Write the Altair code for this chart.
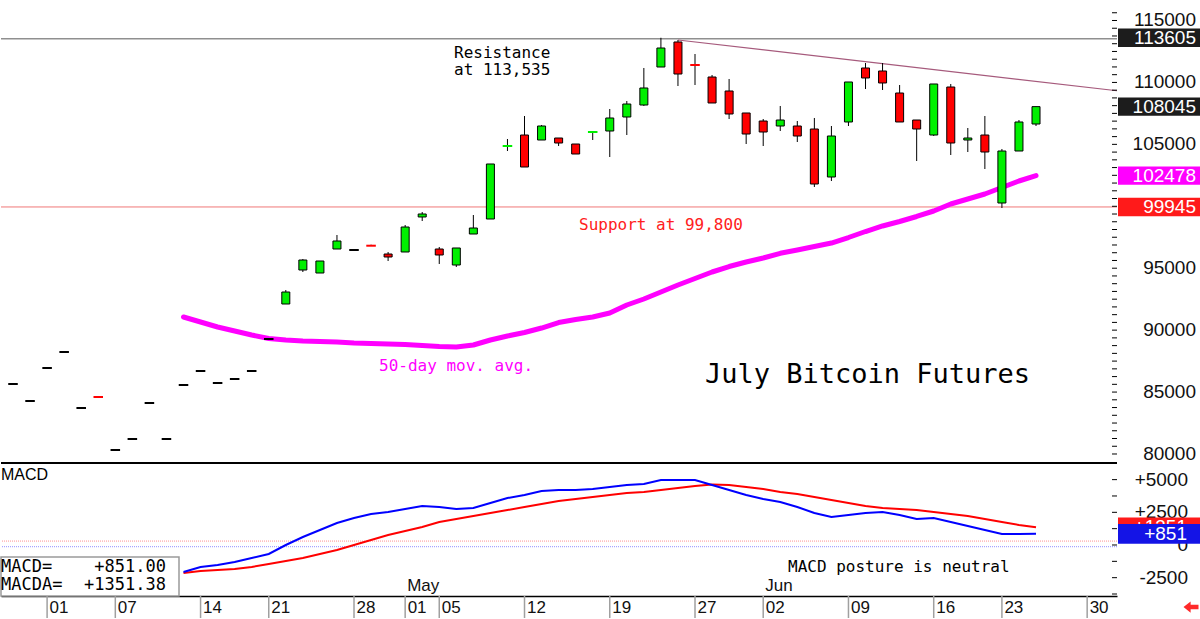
import altair as alt
import pandas as pd

# ---- July Bitcoin futures: daily sessions (exchange holidays skipped) ----
sessions = ["2025-03-28", "2025-03-31", "2025-04-01", "2025-04-02", "2025-04-03",
            "2025-04-04", "2025-04-07", "2025-04-08", "2025-04-09", "2025-04-10",
            "2025-04-11", "2025-04-14", "2025-04-15", "2025-04-16", "2025-04-17",
            "2025-04-21", "2025-04-22", "2025-04-23", "2025-04-24", "2025-04-25",
            "2025-04-28", "2025-04-29", "2025-04-30", "2025-05-01", "2025-05-02",
            "2025-05-05", "2025-05-06", "2025-05-07", "2025-05-08", "2025-05-09",
            "2025-05-12", "2025-05-13", "2025-05-14", "2025-05-15", "2025-05-16",
            "2025-05-19", "2025-05-20", "2025-05-21", "2025-05-22", "2025-05-23",
            "2025-05-27", "2025-05-28", "2025-05-29", "2025-05-30", "2025-06-02",
            "2025-06-03", "2025-06-04", "2025-06-05", "2025-06-06", "2025-06-09",
            "2025-06-10", "2025-06-11", "2025-06-12", "2025-06-13", "2025-06-16",
            "2025-06-17", "2025-06-18", "2025-06-20", "2025-06-23", "2025-06-24",
            "2025-06-25"]

opens = [85651, 84278, 86943, 88235, 83713, 84601, 80322, 81210, 84117, 81210,
         85570, 86700, 85731, 86054, 86700, 89284, 92110, 94855, 94613, 96551,
         96470, 96817, 96147, 96309, 99135, 96551, 95259, 97762, 98973, 104867,
         105755, 105351, 105513, 105028, 105997, 106078, 107208, 108177, 111245, 113264,
         111407, 110438, 109308, 107532, 106885, 106481, 106481, 106239, 102364, 106805,
         111165, 110923, 109146, 106966, 105755, 109630, 105351, 105755, 100265, 104463,
         106643]
highs = [85651, 84278, 86943, 88235, 83713, 84601, 80322, 81210, 84117, 81210,
         85570, 86700, 85731, 86054, 86700, 89284, 93240, 95743, 95582, 97681,
         96470, 96898, 96309, 98488, 99538, 96713, 96632, 99296, 103414, 105432,
         107289, 106563, 105513, 105028, 105997, 107854, 108500, 111165, 113605, 113425,
         112295, 110600, 110277, 107532, 107047, 108097, 106885, 107128, 106481, 110035,
         111568, 111568, 109792, 106966, 109873, 109873, 106320, 107289, 104625, 106966,
         108045]
lows = [85651, 84278, 86943, 88235, 83713, 84601, 80322, 81210, 84117, 81210,
        85570, 86700, 85731, 86054, 86700, 89284, 92110, 94694, 94613, 96551,
        96470, 96817, 95582, 96309, 98811, 95340, 95098, 97762, 98973, 104463,
        103171, 105351, 104867, 104221, 105351, 103979, 105755, 108097, 111245, 109711,
        109792, 108339, 107047, 105028, 104867, 106078, 105190, 101557, 102041, 106481,
        109469, 109388, 106805, 103656, 105674, 104140, 104382, 103010, 99861, 104463,
        106481]
closes = [85651, 84278, 86943, 88235, 83713, 84601, 80322, 81210, 84117, 81210,
          85570, 86700, 85731, 86054, 86700, 89284, 93079, 95662, 95582, 97197,
          96470, 96817, 95905, 98327, 99377, 96067, 96632, 98246, 103414, 104867,
          103171, 106481, 105109, 104221, 105997, 107128, 108258, 109550, 112779, 110680,
          111407, 108339, 107451, 105836, 105997, 106966, 105674, 101799, 105674, 110035,
          110358, 109954, 106805, 106239, 109873, 105109, 105513, 104382, 104463, 106805,
          108045]
# sessions that traded flat but are flagged up / down
flat_flags = {5: "down", 21: "down", 29: "up", 34: "up", 40: "down"}

# studies start on the 11th session (2025-04-11)
study_start = 10
ma50 = [91060, 90657, 90253, 89930, 89607, 89325, 89204, 89123, 89083, 89042,
        88962, 88921, 88881, 88841, 88760, 88679, 88638, 88800, 89204, 89526,
        89809, 90172, 90616, 90859, 91060, 91383, 92029, 92514, 93079, 93644,
        94169, 94694, 95137, 95501, 95824, 96203, 96470, 96753, 97035, 97479,
        97963, 98411, 98772, 99176, 99619, 100184, 100588, 100991, 101516, 102041,
        102478]
macd = [-2066, -1683, -1530, -1300, -995, -689, 0, 612, 1148, 1683,
        2066, 2372, 2525, 2754, 2984, 2907, 2754, 2831, 3213, 3596,
        3825, 4131, 4208, 4208, 4284, 4437, 4590, 4667, 4973, 4973,
        4973, 4590, 4208, 3825, 3519, 3290, 2907, 2448, 2142, 2295,
        2448, 2525, 2295, 1989, 2066, 1760, 1454, 1148, 842, 842,
        851.00]
macda = [-2142, -1989, -1913, -1836, -1683, -1454, -1224, -995, -689, -383,
         0, 383, 765, 1071, 1377, 1760, 1989, 2219, 2448, 2678,
         2907, 3137, 3366, 3519, 3672, 3825, 3978, 4055, 4208, 4361,
         4514, 4628, 4590, 4437, 4284, 4055, 3902, 3672, 3443, 3213,
         2984, 2831, 2754, 2678, 2525, 2372, 2219, 1989, 1760, 1530,
         1351.38]

resistance = 113535
support = 99945
trend_sessions = [39, 64.75]
trend_prices = [113425, 109330]
price_tags = [113605, 108045, 102478, 99945]
macd_guides = [300, -130]

week_ticks = [2, 6, 11, 15, 20, 23, 25, 30, 35, 40, 44, 49, 54, 58, 63]
week_labels = ["01", "07", "14", "21", "28", "01", "05", "12", "19", "27",
               "02", "09", "16", "23", "30"]
month_starts = [23, 44]
month_names = ["May", "Jun"]

price_labels = [80000, 85000, 90000, 95000, 105000, 110000, 115000]
macd_labels = [-2500, 0, 2500, 5000]

# ---- tables ----
n = len(sessions)
bars = pd.DataFrame({"idx": list(range(n)), "date": sessions, "open": opens,
                     "high": highs, "low": lows, "close": closes})


def tone(i):
    if closes[i] > opens[i]:
        return "up"
    if closes[i] < opens[i]:
        return "down"
    return "flat_" + flat_flags.get(i, "even")


bars["tone"] = [tone(i) for i in range(n)]
bodies = bars[bars["open"] != bars["close"]]
flats = bars[bars["open"] == bars["close"]]
wicks = bars[bars["high"] > bars["low"]]

study = pd.DataFrame({"idx": list(range(study_start, study_start + len(ma50))),
                      "ma": ma50, "macd": macd, "macda": macda})
trend = pd.DataFrame({"idx": trend_sessions, "v": trend_prices})
weeks = pd.DataFrame({"idx": week_ticks})
months = pd.DataFrame({"idx": month_starts, "name": month_names})
price_scale_text = pd.DataFrame({"v": price_labels, "t": [str(v) for v in price_labels]})
macd_scale_text = pd.DataFrame({"v": macd_labels,
                                "t": [("+%d" % v) if v > 0 else str(v) for v in macd_labels]})
one = pd.DataFrame({"k": [0]})

W = 1116
H_MAIN = 463
H_MACD = 133
GREEN = "#00f000"
RED = "#ff0000"
MAGENTA = "#ff00ff"
BLUE = "#0000ff"
LABEL_FONT = "Liberation Sans"
NOTE_FONT = "DejaVu Sans Mono"

x_scale = alt.Scale(domain=[-0.704, 64.75], nice=False, zero=False)
y_price = alt.Scale(domain=[79273, 116655], nice=False, zero=False)
y_osc = alt.Scale(domain=[-3902, 6273], nice=False, zero=False)

# right-hand axes: only the spine comes from the axis, the labels are text marks
spine = dict(orient="right", labels=False, ticks=False, tickSize=0, grid=False,
             domain=True, domainColor="black", title=None)
price_axis = alt.Axis(**spine)
osc_axis = alt.Axis(**spine)
label_list = "[" + ",".join("'%s'" % s for s in week_labels) + "]"
tick_list = "[" + ",".join(str(t) for t in week_ticks) + "]"
date_axis = alt.Axis(values=week_ticks,
                     labelExpr=label_list + "[indexof(" + tick_list + ", datum.value)]",
                     ticks=False, tickSize=0, grid=False, domain=True, domainColor="black",
                     domainWidth=1.5, labelAlign="left", labelBaseline="top", labelOffset=2,
                     labelPadding=3, labelFlush=False, labelOverlap=False,
                     labelFont=LABEL_FONT, labelFontSize=17, labelColor="#111111", title=None)


def X(field, axis=None):
    return alt.X(field + ":Q", scale=x_scale, axis=axis)


def YP(field, axis=None):
    return alt.Y(field + ":Q", scale=y_price, axis=axis)


def YO(field, axis=None):
    return alt.Y(field + ":Q", scale=y_osc, axis=axis)


def note(text, x, y, size=16, color="black", font=NOTE_FONT, align="left"):
    return alt.Chart(one).mark_text(text=text, font=font, fontSize=size, color=color,
                                    align=align, baseline="middle").encode(
        x=alt.value(x), y=alt.value(y))


def tag(value, text, fill, yfield_fn, half, text_right=1195):
    d = pd.DataFrame({"v": [value], "t": [text]})
    box = alt.Chart(d).transform_calculate(
        top="datum.v + %d" % half, bot="datum.v - %d" % half
    ).mark_rect(color=fill).encode(
        x=alt.value(1117), x2=alt.value(1199), y=yfield_fn("top"), y2=alt.Y2("bot"))
    lab = alt.Chart(d).mark_text(font=LABEL_FONT, fontSize=19, color="white",
                                 align="right", baseline="middle").encode(
        x=alt.value(text_right), y=yfield_fn("v"), text="t:N")
    return box + lab


tone_scale = alt.Scale(domain=["up", "down", "flat_up", "flat_down", "flat_even"],
                       range=[GREEN, RED, GREEN, RED, "#000000"])

# ---- price panel ----
res_line = alt.Chart(pd.DataFrame({"v": [resistance]})).mark_rule(
    color="#8f8f8f", strokeWidth=1.5).encode(y=YP("v", price_axis))
sup_line = alt.Chart(pd.DataFrame({"v": [support]})).mark_rule(
    color="#f07878", strokeWidth=1).encode(y=YP("v"))
trend_line = alt.Chart(trend).mark_line(color="#a65a7c", strokeWidth=1.2).encode(
    x=X("idx"), y=YP("v"))
ma_line = alt.Chart(study).mark_line(color=MAGENTA, strokeWidth=5, strokeCap="round",
                                     strokeJoin="round").encode(x=X("idx"), y=YP("ma"))
wick_layer = alt.Chart(wicks).mark_rule(color="black", strokeWidth=1).encode(
    x=X("idx"), y=YP("low"), y2=alt.Y2("high"))
body_layer = alt.Chart(bodies).transform_calculate(
    xl="datum.idx - 0.235", xr="datum.idx + 0.235"
).mark_rect(stroke="black", strokeWidth=1).encode(
    x=X("xl"), x2=alt.X2("xr"), y=YP("open"), y2=alt.Y2("close"),
    fill=alt.Fill("tone:N", scale=tone_scale, legend=None))
flat_layer = alt.Chart(flats).transform_calculate(
    xl="datum.idx - 0.28", xr="datum.idx + 0.28"
).mark_rule(strokeWidth=2).encode(
    x=X("xl"), x2=alt.X2("xr"), y=YP("close"),
    color=alt.Color("tone:N", scale=tone_scale, legend=None))
price_minor = alt.Chart(pd.DataFrame({"v": list(range(80000, 116001, 625))})).mark_rule(
    color="black", strokeWidth=1).encode(x=alt.value(1111), x2=alt.value(1116), y=YP("v"))
price_scale_labels = alt.Chart(price_scale_text).mark_text(
    font=LABEL_FONT, fontSize=19, color="#111111", align="right", baseline="middle").encode(
    x=alt.value(1195), y=YP("v"), text="t:N")
panel_floor = alt.Chart(one).mark_rule(color="black", strokeWidth=2).encode(
    y=alt.value(H_MAIN), x=alt.value(0), x2=alt.value(W))

tag_fills = ["#1c1c1c", "#1c1c1c", MAGENTA, "#ff1a1a"]
price_tag_layers = [tag(v, str(v), f, YP, 740) for v, f in zip(price_tags, tag_fills)]

price_panel = alt.layer(
    res_line, sup_line, trend_line, ma_line, wick_layer, body_layer, flat_layer,
    price_minor, panel_floor, price_scale_labels,
    note("Resistance", 453, 53),
    note("at 113,535", 453, 70),
    note("Support at 99,800", 578, 225, color="#ff2020"),
    note("50-day mov. avg.", 378, 366, color=MAGENTA),
    note("July Bitcoin Futures", 704, 375, size=27),
    *price_tag_layers,
).properties(width=W, height=H_MAIN)

# ---- MACD panel ----
guide_red = alt.Chart(pd.DataFrame({"v": [macd_guides[0]]})).mark_rule(
    color="#ff9090", strokeWidth=1, strokeDash=[1, 1]).encode(y=YO("v", osc_axis))
guide_blue = alt.Chart(pd.DataFrame({"v": [macd_guides[1]]})).mark_rule(
    color="#9090ff", strokeWidth=1, strokeDash=[1, 1]).encode(y=YO("v"))
macda_line = alt.Chart(study).mark_line(color=RED, strokeWidth=2).encode(
    x=X("idx", date_axis), y=YO("macda"))
macd_line = alt.Chart(study).mark_line(color=BLUE, strokeWidth=2).encode(
    x=X("idx", date_axis), y=YO("macd"))
osc_minor = alt.Chart(pd.DataFrame({"v": [-3750, -2500, -1250, 0, 1250, 2500, 3750, 5000, 6250]})).mark_rule(
    color="black", strokeWidth=1).encode(x=alt.value(1111), x2=alt.value(1116), y=YO("v"))
osc_scale_labels = alt.Chart(macd_scale_text).mark_text(
    font=LABEL_FONT, fontSize=19, color="#111111", align="right", baseline="middle").encode(
    x=alt.value(1187), y=YO("v"), text="t:N")
week_seps = alt.Chart(weeks).mark_rule(color="#a0a0a0", strokeWidth=1.5).encode(
    x=X("idx", date_axis), y=alt.value(H_MACD), y2=alt.value(H_MACD + 22))
month_text = alt.Chart(months).mark_text(font=LABEL_FONT, fontSize=17, color="#111111",
                                         align="left", baseline="middle", dx=2).encode(
    x=X("idx", date_axis), y=alt.value(123), text="name:N")
readout_box = alt.Chart(one).mark_rect(fill="white", stroke="#9a9a9a", strokeWidth=1.5).encode(
    x=alt.value(0), x2=alt.value(178), y=alt.value(94), y2=alt.value(H_MACD))

osc_tags = [tag(round(macda[-1]), "+%d" % round(macda[-1]), "#ff1a1a", YO, 760, 1186),
            tag(round(macd[-1]), "+%d" % round(macd[-1]), "#1414e6", YO, 760, 1186)]

macd_panel = alt.layer(
    guide_red, guide_blue, macda_line, macd_line, osc_minor, osc_scale_labels,
    week_seps, month_text, readout_box,
    note("MACD", 0, 12, size=16, font=LABEL_FONT),
    note("MACD posture is neutral", 787, 104),
    note("MACD=", 0, 104, size=17),
    note("%+.2f" % macd[-1], 165, 104, size=17, align="right"),
    note("MACDA=", 0, 122, size=17),
    note("%+.2f" % macda[-1], 165, 122, size=17, align="right"),
    alt.Chart(one).mark_point(
        shape="M -1 0 L -0.05 -0.75 L -0.05 -0.3 L 1 -0.3 L 1 0.3 L -0.05 0.3 L -0.05 0.75 Z",
        size=225, filled=True, color="#ff2a2a", opacity=1, strokeWidth=0).encode(
        x=alt.value(1190), y=alt.value(H_MACD + 11)),
    *osc_tags,
).properties(width=W, height=H_MACD)

chart = alt.vconcat(price_panel, macd_panel, spacing=0, bounds="flush").resolve_scale(
    x="independent", y="independent"
).properties(padding=0, background="white").configure_view(stroke=None)

chart.save("out.html", embed_options={"renderer": "svg", "actions": False})
